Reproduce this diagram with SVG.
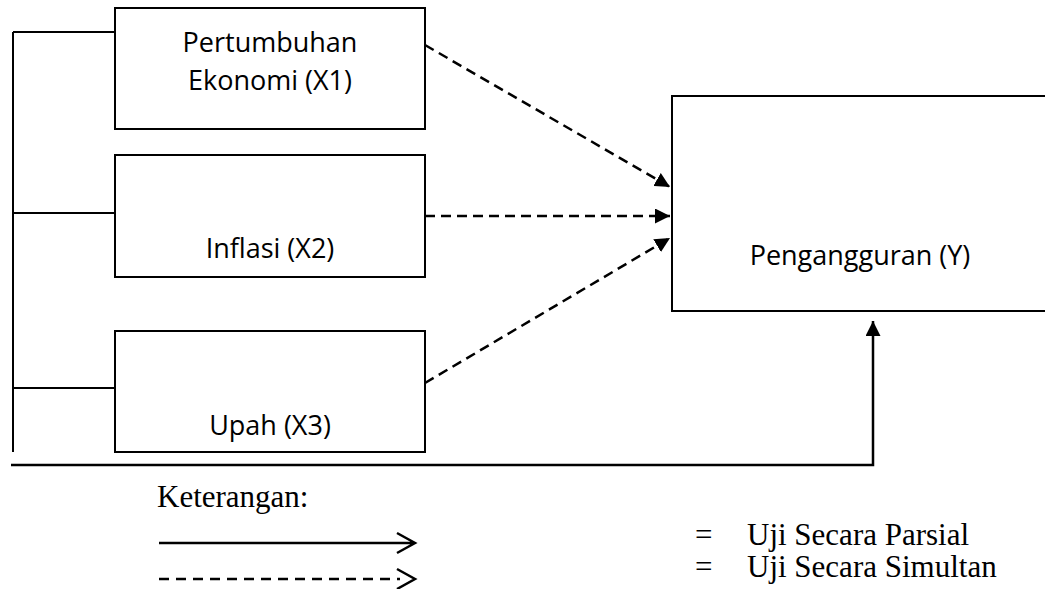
<svg xmlns="http://www.w3.org/2000/svg" width="1045" height="589" viewBox="0 0 1045 589">
<style>
.box{fill:#fff;stroke:#000;stroke-width:2}
.lbl{font-family:"Open Sans","Liberation Sans",sans-serif;font-size:27px;fill:#000;text-anchor:middle}
.leg{font-family:"Liberation Serif","Times New Roman",serif;font-size:31px;fill:#000}
.ln{fill:none;stroke:#000;stroke-width:2}
.lg{fill:none;stroke:#000;stroke-width:2.5}
.dash{fill:none;stroke:#000;stroke-width:2.5;stroke-dasharray:10 6}
</style>
<defs>
<marker id="ah" markerUnits="userSpaceOnUse" markerWidth="16" markerHeight="15" refX="15" refY="7.5" orient="auto">
<path d="M0,0 L15,7.5 L0,15 z" fill="#000"/>
</marker>
</defs>
<rect width="1045" height="589" fill="#fff"/>
<g id="connectors">
<path class="ln" d="M13,32 V452 M13,32 H115 M13,213 H115 M13,388 H115"/>
<path class="lg" d="M11,465 H873 V321" marker-end="url(#ah)"/>
<path class="dash" d="M425,45 L670,187" marker-end="url(#ah)"/>
<path class="dash" d="M425,216 L670,216" marker-end="url(#ah)"/>
<path class="dash" d="M425,383 L670,238" marker-end="url(#ah)"/>
</g>
<g id="x1">
<rect class="box" x="115" y="8" width="310" height="121"/>
<text class="lbl" x="270" y="52">Pertumbuhan</text>
<text class="lbl" x="270" y="90">Ekonomi (X1)</text>
</g>
<g id="x2">
<rect class="box" x="115" y="155" width="310" height="122"/>
<text class="lbl" x="270" y="258">Inflasi (X2)</text>
</g>
<g id="x3">
<rect class="box" x="115" y="331" width="310" height="121"/>
<text class="lbl" x="270" y="435">Upah (X3)</text>
</g>
<g id="y">
<rect class="box" x="672" y="96" width="380" height="215"/>
<text class="lbl" x="860" y="265">Pengangguran (Y)</text>
</g>
<g id="legend">
<text class="leg" x="157" y="507">Keterangan:</text>
<path class="lg" d="M159,543 H414 M397,533 L415,543 L397,553"/>
<path class="lg" d="M159,579 H400" stroke-dasharray="10 7"/>
<path class="lg" d="M397,569 L415,579 L397,589"/>
<text class="leg" x="695" y="545">=</text>
<text class="leg" x="747" y="545">Uji Secara Parsial</text>
<text class="leg" x="695" y="577">=</text>
<text class="leg" x="747" y="577">Uji Secara Simultan</text>
</g>
</svg>
